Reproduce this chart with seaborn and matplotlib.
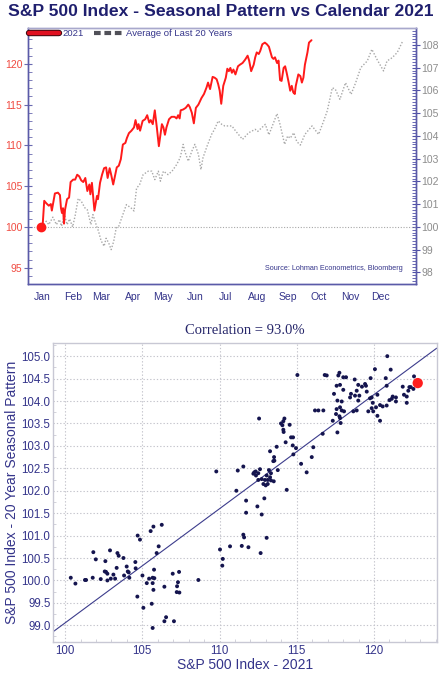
import numpy as np
import pandas as pd
import matplotlib
matplotlib.use('Agg')
import matplotlib.pyplot as plt
import matplotlib.patheffects as pe
from matplotlib.lines import Line2D
from matplotlib.ticker import MultipleLocator, FormatStrFormatter
import seaborn as sns

# --- data: top chart (x = days since 1 Jan 2021, S&P rebased to 100) ---
days_2021 = [-1, 1, 2.5, 4.5, 7, 9, 10, 13, 16, 18, 19, 20, 21, 22, 23, 25, 27, 28.5, 31, 33,
             35, 37, 39, 41, 43, 44, 45, 47, 48, 49.5, 50.5, 52, 53, 54.5, 55.5, 57.5, 59.5, 61.5,
             63.5, 65, 67, 68.5, 70.5, 72.5, 74, 76, 78, 80, 82.5, 84, 86, 88.5, 91, 92.5, 94.5,
             95.5, 97, 99.5, 102, 104, 106, 107.5, 109.5, 111.5, 113.5, 115.5, 117, 118.5, 120,
             121.5, 123, 125.5, 128, 131, 133, 134.5, 136, 137, 139.5, 142, 144.5, 146, 148, 150,
             152, 154.5, 157.5, 160, 162.5, 164, 166, 168.5, 170.5, 172.5, 174, 175.5, 177, 179,
             181.5, 183, 184.5, 186, 187.5, 189, 191, 193.5, 195.5, 198, 200.5, 203, 204.5, 206.5,
             209, 210.5, 212, 214, 215.5, 217.5, 220, 222, 224, 227, 228.5, 230, 232, 233.5, 235,
             236.5, 238.5, 240, 241.5, 243.5, 245, 246.5, 248, 249.5, 250.5, 253, 255, 256.5, 258,
             259.5, 262, 263.5, 266]
sp_2021 = [100.0, 100.3, 103.2, 102.9, 102.6, 102.8, 102.0, 104.1, 104.2, 103.9, 102.3, 101.7,
           102.3, 100.4, 102.1, 103.4, 103.6, 105.5, 105.8, 105.8, 106.4, 106.2, 105.7, 105.5,
           106.0, 105.2, 104.4, 105.2, 104.0, 105.4, 104.0, 102.0, 102.7, 103.8, 103.4, 105.4,
           106.4, 107.2, 107.3, 106.0, 107.2, 106.4, 105.2, 106.4, 107.3, 107.5, 108.3, 110.1,
           110.3, 110.9, 111.5, 111.8, 112.2, 113.1, 112.0, 112.6, 111.8, 113.0, 113.2, 113.7,
           112.8, 113.1, 112.6, 114.3, 112.2, 109.9, 111.3, 112.6, 112.2, 111.3, 112.2, 113.2,
           113.5, 113.5, 113.3, 113.7, 113.3, 114.3, 114.4, 114.6, 115.0, 114.7, 114.0, 112.7,
           114.6, 115.0, 115.8, 116.3, 117.1, 117.7, 116.9, 118.4, 118.3, 118.1, 117.5, 116.7,
           115.1, 117.3, 118.3, 119.4, 119.1, 119.5, 118.9, 119.3, 118.7, 119.7, 119.9, 120.1,
           120.5, 121.0, 120.4, 119.1, 119.9, 120.8, 121.4, 121.2, 121.6, 122.4, 122.6, 122.4,
           122.1, 120.8, 120.6, 120.8, 120.1, 120.4, 118.0, 117.9, 119.5, 119.7, 118.9, 117.7,
           116.7, 117.3, 116.5, 116.3, 117.3, 118.7, 118.5, 117.7, 118.3, 119.9, 121.4, 122.6,
           122.9]

days_avg = [0, 4.5, 7, 11, 14.5, 17.5, 19.5, 22.5, 25, 27.5, 30.5, 33, 36, 39, 42.5, 45, 48.5,
            50.5, 54, 56, 58.5, 61.5, 63.5, 66, 68.5, 71, 73.5, 76, 80, 83.5, 86, 89, 91, 93.5,
            96.5, 100, 105, 108.5, 111.5, 115, 117, 120, 124.5, 128.5, 133, 136.5, 139.5, 141,
            144.5, 148, 151, 154.5, 157, 159, 163, 167.5, 170.5, 174, 177.5, 180.5, 187.5, 191.5,
            198, 204, 210.5, 213, 220.5, 224, 232, 235, 239.5, 242.5, 245, 248.5, 251.5, 255,
            259.5, 266.5, 273, 278, 281.5, 286.5, 289.5, 294, 299.5, 305, 309.5, 314.5, 321,
            325.5, 330.5, 337, 340.5, 345.5, 350.5, 356]
sp_avg = [100.0, 100.25, 100.1, 100.43, 100.1, 100.32, 100.03, 100.54, 100.1, 100.35, 100.0,
          100.5, 101.25, 101.13, 100.84, 100.75, 100.1, 100.54, 100.05, 99.81, 99.4, 99.15, 99.5,
          99.3, 99.0, 99.37, 99.96, 100.03, 100.54, 100.98, 100.9, 100.8, 100.7, 101.7, 101.86,
          102.3, 102.45, 102.45, 102.08, 102.45, 102.01, 102.45, 102.3, 102.45, 102.74, 103.04,
          103.63, 103.33, 102.89, 103.33, 103.63, 103.19, 102.52, 103.04, 103.55, 104.07, 104.3,
          104.66, 104.51, 104.44, 104.44, 104.2, 103.85, 104.14, 104.29, 104.2, 104.51, 104.05,
          104.98, 104.5, 103.63, 104.0, 103.9, 104.14, 103.75, 103.6, 104.07, 104.44, 104.07,
          104.66, 105.1, 106.12, 106.05, 105.61, 106.34, 105.83, 106.34, 107.0, 107.3, 107.81,
          107.37, 106.86, 107.3, 107.44, 107.67, 108.18]

months = ['Jan', 'Feb', 'Mar', 'Apr', 'May', 'Jun', 'Jul', 'Aug', 'Sep', 'Oct', 'Nov', 'Dec']
month_start = [0, 31, 59, 90, 120, 151, 181, 212, 243, 273, 304, 334]

# --- data: scatter (2021 value vs seasonal pattern on same day), last point = latest ---
x_2021 = [100.37, 100.67, 101.29, 101.36, 101.79, 101.83, 101.99, 102.31, 102.61, 102.57, 102.65,
          102.74, 102.74, 102.91, 102.96, 103.13, 103.24, 103.34, 103.39, 103.47, 103.78, 103.82,
          103.99, 104.06, 104.16, 104.12, 104.55, 104.57, 104.68, 104.70, 104.85, 105.01, 105.07,
          105.29, 105.44, 105.54, 105.67, 105.67, 105.61, 105.72, 105.72, 105.76, 105.78, 105.67,
          105.93, 106.06, 106.26, 106.43, 106.43, 106.54, 106.97, 107.05, 107.25, 107.31, 107.38,
          107.23, 107.40, 108.63,
          110.03, 110.21, 110.18, 110.68, 111.44, 111.54, 111.59, 111.72, 111.72, 111.87, 112.45,
          112.73, 112.66, 112.90, 113.05,
          112.56, 114.20, 114.13, 113.98, 114.07, 114.54, 114.13, 114.15, 114.63, 114.76, 114.28,
          114.74, 113.70, 114.95, 113.27, 114.78, 113.53, 113.55, 113.48, 115.28, 111.54, 109.79,
          111.18, 112.62, 112.25, 112.34, 112.19, 112.51, 113.20, 113.77, 113.33, 112.36, 113.05,
          113.27, 112.73, 112.51, 112.94, 113.12, 113.33, 113.51, 112.84, 112.99, 113.12, 111.09,
          114.35, 115.64,
          120.86, 115.04, 116.81, 116.94, 120.06, 121.08, 117.76, 117.69, 118.01, 118.19, 118.75,
          119.78, 120.76, 122.59, 117.58, 117.80, 118.98, 119.22, 119.42, 119.48, 120.82, 121.86,
          122.29, 122.38, 122.55, 118.01, 118.88, 119.53, 117.41, 118.51, 118.77, 119.05, 118.45,
          120.22, 119.85, 119.74, 121.94, 122.12, 122.22, 121.21, 121.42, 121.00, 121.15, 117.63,
          117.91, 118.98, 121.42, 122.12, 119.92, 120.39, 120.82, 120.56, 117.80, 119.85, 120.13,
          117.58, 117.91, 116.18, 116.40, 116.72, 118.66, 118.88, 119.63, 119.95, 120.22, 117.54,
          117.76, 118.06, 117.80, 120.39, 117.33, 117.84, 116.68, 117.63, 116.07, 115.97,
          122.83]
y_seasonal = [100.06, 99.93, 100.01, 100.01, 100.06, 100.63, 100.47, 100.03, 100.43, 100.20, 100.19,
              100.00, 100.15, 100.67, 100.04, 100.13, 100.04, 100.28, 100.61, 100.55, 100.50, 100.11,
              100.31, 100.20, 100.06, 100.18, 100.41, 100.27, 99.64, 101.00, 100.91, 100.11, 99.39,
              99.94, 100.04, 101.10, 100.06, 99.94, 99.48, 101.20, 99.79, 100.24, 100.05, 98.94,
              100.61, 100.76, 101.24, 99.86, 99.09, 99.18, 100.15, 99.09, 99.87, 99.96, 100.19,
              99.74, 99.73, 100.01,
              100.69, 100.48, 100.33, 100.76, 100.77, 101.02, 100.96, 101.78, 101.51, 100.74, 101.65,
              101.47, 100.61, 101.83, 100.95,
              103.61, 103.61, 103.55, 103.50, 103.46, 103.47, 103.36, 103.31, 103.19, 103.19, 103.08,
              103.01, 102.98, 102.95, 102.88, 102.81, 102.75, 102.67, 102.66, 102.60, 102.54, 102.43,
              102.45, 102.48, 102.41, 102.43, 102.38, 102.39, 102.46, 102.46, 102.39, 102.34, 102.34,
              102.30, 102.26, 102.24, 102.24, 102.24, 102.23, 102.21, 102.15, 102.12, 102.15, 102.00,
              102.02, 102.41,
              105.00, 104.58, 104.58, 104.57, 104.71, 104.70, 104.63, 104.57, 104.53, 104.53, 104.48,
              104.51, 104.51, 104.55, 104.34, 104.36, 104.36, 104.32, 104.38, 104.34, 104.34, 104.32,
              104.31, 104.31, 104.27, 104.25, 104.23, 104.21, 104.16, 104.16, 104.12, 104.12, 104.08,
              104.14, 104.08, 104.06, 104.14, 104.10, 104.23, 104.10, 104.08, 104.02, 104.05, 104.01,
              103.99, 104.01, 103.99, 103.96, 103.96, 103.91, 103.90, 103.88, 103.86, 103.84, 103.86,
              103.82, 103.79, 103.79, 103.79, 103.79, 103.77, 103.79, 103.77, 103.77, 103.67, 103.71,
              103.66, 103.77, 103.62, 103.56, 103.56, 103.51, 103.27, 103.30, 102.97, 102.75,
              104.40]

NAVY = '#1f1f6e'
TICK_NAVY = '#34348a'

sns.set_style('white')
plt.rcParams['font.family'] = ['Liberation Sans', 'DejaVu Sans']

fig = plt.figure(figsize=(4.41, 6.80), dpi=100)

# ================= top chart =================
ax = fig.add_axes([0.0635, 0.5824, 0.8798, 0.3765])
ax2 = ax.twinx()

df_2021 = pd.DataFrame({'day': days_2021, 'value': sp_2021})
df_avg = pd.DataFrame({'day': days_avg, 'value': sp_avg})

sns.lineplot(data=df_avg, x='day', y='value', ax=ax2, color='#a8a8a8',
             linestyle=(0, (1, 1.3)), linewidth=1.0)
ax2.axhline(100, color='#a8a8a8', linestyle=(0, (1, 1.5)), linewidth=0.8)

sns.lineplot(data=df_2021, x='day', y='value', ax=ax, color='#ff1a1a', linewidth=1.4)
ax.plot(df_2021['day'].iloc[0], df_2021['value'].iloc[0], 'o', color='#ff1a1a',
        markersize=6, zorder=5)

ax.set_zorder(ax2.get_zorder() + 1)
ax.patch.set_visible(False)

ax.set_xlim(-13.5, 369)
ax.set_ylim(93, 124.4)
ax2.set_ylim(97.49, 108.75)

ax.set_xticks(month_start)
ax.set_xticklabels(months)
ax.set_yticks([95, 100, 105, 110, 115, 120])
ax.yaxis.set_minor_locator(MultipleLocator(1))
ax2.set_yticks(range(98, 109))
ax2.yaxis.set_minor_locator(MultipleLocator(0.125))
ax.set_xlabel('')
ax.set_ylabel('')
ax2.set_ylabel('')

ax.tick_params(axis='x', direction='inout', length=7, width=0.9, color='#4848a0',
               labelsize=7.5, labelcolor=TICK_NAVY, pad=2)
ax.tick_params(axis='y', which='major', direction='inout', length=6, width=0.8,
               color='#6a6ab0', labelsize=7.5, labelcolor='#f04a40', pad=1)
ax.tick_params(axis='y', which='minor', direction='in', length=3, width=0.6, color='#6a6ab0',
               left=True)
ax2.tick_params(axis='y', which='major', direction='inout', length=6, width=0.8,
                color='#5050a8', labelsize=7.5, labelcolor='#8c8c8c', pad=1)
ax2.tick_params(axis='y', which='minor', direction='in', length=3, width=0.6, color='#5050a8',
                right=True)

for a in (ax, ax2):
    for side, sp in a.spines.items():
        sp.set_color('#5a5aa8')
        sp.set_linewidth(1.0)
    a.spines['top'].set_color('#a8a8cc')

handles = [
    Line2D([0], [0], color='#e01020', linewidth=3.2,
           path_effects=[pe.Stroke(linewidth=4.6, foreground='#3a0a10'), pe.Normal()]),
    Line2D([0], [0], color='#505058', linewidth=3.0, linestyle=(0, (1.6, 0.9))),
]
ax.legend(handles, ['2021', 'Average of Last 20 Years'], loc='upper left', ncol=2,
          frameon=False, fontsize=6.8, labelcolor=TICK_NAVY, handlelength=3.1,
          handletextpad=0.35, columnspacing=1.1, borderaxespad=0.05, borderpad=0.1)

ax.text(0.965, 0.045, 'Source: Lohman Econometrics, Bloomberg', transform=ax.transAxes,
        ha='right', va='bottom', fontsize=5.2, color=TICK_NAVY)

fig.text(0.5, 0.983, 'S&P 500 Index - Seasonal Pattern vs Calendar 2021', ha='center',
         va='center', fontsize=12.6, fontweight='bold', color=NAVY)

# ================= scatter =================
bx = fig.add_axes([0.1209, 0.0554, 0.8694, 0.4406])
df_sc = pd.DataFrame({'sp2021': x_2021, 'seasonal': y_seasonal})

slope, intercept = np.polyfit(df_sc['sp2021'], df_sc['seasonal'], 1)
bx.axline((100, intercept + slope * 100), slope=slope, color='#3c3c8c', linewidth=0.8,
          zorder=2)

sns.scatterplot(data=df_sc.iloc[:-1], x='sp2021', y='seasonal', ax=bx, color='#14144e',
                s=8, edgecolor='none', zorder=3)
sns.scatterplot(data=df_sc.iloc[-1:], x='sp2021', y='seasonal', ax=bx, color='#ff1e1e',
                s=55, edgecolor='none', zorder=4)

bx.set_xlim(99.24, 124.06)
bx.set_ylim(98.62, 105.30)
bx.set_xticks([100, 105, 110, 115, 120])
bx.xaxis.set_minor_locator(MultipleLocator(1))
bx.set_yticks(np.arange(99.0, 105.01, 0.5))
bx.yaxis.set_major_formatter(FormatStrFormatter('%.1f'))
bx.yaxis.set_minor_locator(MultipleLocator(0.25))
bx.grid(True, which='major', color='#c4c4cc', linestyle=(0, (1.2, 1.8)), linewidth=0.8)
bx.set_axisbelow(True)

bx.tick_params(axis='both', which='major', direction='in', length=4, width=0.6,
               color='#c0c0cc', labelsize=8.3, labelcolor=TICK_NAVY, pad=2)
bx.tick_params(axis='both', which='minor', direction='in', length=2.5, width=0.5,
               color='#c0c0cc', bottom=True, left=True)
for sp in bx.spines.values():
    sp.set_color('#c8c8d4')
    sp.set_linewidth(1.0)

bx.set_xlabel('S&P 500 Index - 2021', fontsize=10, color=TICK_NAVY, labelpad=1)
bx.set_ylabel('S&P 500 Index - 20 Year Seasonal Pattern', fontsize=10, color=TICK_NAVY,
              labelpad=2)
bx.set_title('Correlation = 93.0%', fontsize=10.5, color='#26266a', pad=6,
             family=['Liberation Serif', 'DejaVu Serif'])

fig.savefig('out.png', dpi=100)
